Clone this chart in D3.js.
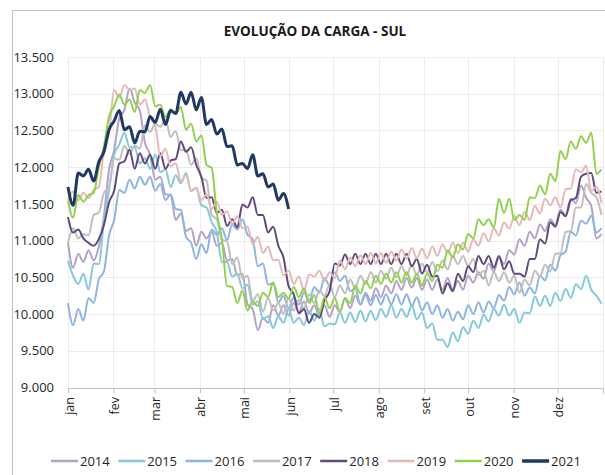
<!DOCTYPE html>
<html>
<head>
<meta charset="utf-8">
<script src="https://cdn.jsdelivr.net/npm/d3@7"></script>
<style>
  body { margin: 0; background: #fff; }
  svg { display: block; font-family: "Open Sans", sans-serif; }
</style>
</head>
<body>
<div id="chart_div"></div>
<script>
// daily load samples every 3.5 days (MW)
var step_days = 3.5;

var months = ["jan", "fev", "mar", "abr", "mai", "jun", "jul", "ago", "set", "out", "nov", "dez"];
var month_start = [0, 31, 59, 90, 120, 151, 181, 212, 243, 273, 304, 334, 365];
var y_ticks = [9000, 9500, 10000, 10500, 11000, 11500, 12000, 12500, 13000, 13500];
var years = ["2014", "2015", "2016", "2017", "2018", "2019", "2020", "2021"];
var colors = ["#b3a2c7", "#86c8dc", "#8eb4e3", "#bfbfbf", "#604a7b", "#e6b9b8", "#92d050", "#1f3864"];

var s2014 = [10970, 10630, 10820, 10710, 10870, 10730, 10920, 11330, 11970, 12230,
  12670, 12780, 13070, 12880, 12770, 12330, 12170, 11830, 11870, 11630,
  11620, 11280, 11370, 11130, 11170, 10930, 11120, 11030, 11120, 10930,
  10970, 10730, 10750, 10530, 10550, 10130, 10070, 9780, 9950, 9880,
  10120, 9980, 10120, 9980, 10150, 10030, 10170, 10010, 10120, 9980,
  10120, 9960, 10120, 10030, 10220, 10080, 10250, 10130, 10290, 10180,
  10350, 10230, 10390, 10280, 10450, 10330, 10490, 10360, 10490, 10330,
  10470, 10330, 10470, 10330, 10490, 10330, 10450, 10330, 10520, 10430,
  10570, 10480, 10690, 10580, 10770, 10680, 10870, 10810, 11020, 10930,
  11120, 11030, 11220, 11130, 11290, 11210, 11420, 11350, 11570, 11510,
  11750, 11580, 11470, 11030, 11090];

var s2015 = [10730, 10520, 10410, 10550, 10330, 10690, 10680, 11270, 11680, 12170,
  12310, 12470, 12270, 12270, 12050, 12120, 11980, 12170, 11930, 11970,
  11730, 11890, 11780, 11920, 11680, 11720, 11480, 11450, 11250, 11120,
  10710, 10710, 10510, 10550, 10350, 10400, 10130, 10170, 9930, 9970,
  9810, 9970, 9880, 10070, 9880, 9950, 9850, 10040, 9910, 10070,
  9830, 9870, 9860, 10020, 9880, 10020, 9890, 10050, 9900, 10040,
  9920, 10070, 9960, 10120, 9950, 10070, 9960, 10120, 9930, 10020,
  9810, 9870, 9650, 9650, 9550, 9750, 9630, 9820, 9730, 9910,
  9810, 9990, 9900, 10070, 9980, 10130, 9980, 10070, 9880, 10020,
  10010, 10240, 10110, 10250, 10110, 10290, 10180, 10340, 10220, 10410,
  10340, 10520, 10330, 10250, 10140];

var s2016 = [10150, 9850, 10070, 9910, 10220, 10150, 10470, 10580, 11070, 11280,
  11690, 11650, 11830, 11710, 11870, 11760, 11870, 11680, 11770, 11550,
  11630, 11430, 11420, 11050, 10970, 10750, 10950, 10830, 11150, 11080,
  11170, 11010, 11220, 11150, 11290, 11080, 11020, 10650, 10690, 10400,
  10420, 10160, 10250, 10080, 10230, 10130, 10290, 10180, 10370, 10290,
  10490, 10390, 10570, 10450, 10520, 10310, 10350, 10130, 10260, 10120,
  10260, 10130, 10270, 10130, 10270, 10130, 10270, 10110, 10230, 10050,
  10160, 10000, 10120, 9950, 10070, 9910, 10030, 9930, 10120, 10000,
  10160, 10020, 10170, 10080, 10260, 10180, 10370, 10270, 10430, 10250,
  10360, 10280, 10520, 10460, 10670, 10590, 10800, 10850, 11120, 11070,
  11270, 11230, 11340, 11110, 11170];

var s2017 = [10970, 11170, 11030, 11090, 11070, 11350, 11380, 11650, 11730, 12120,
  12100, 12290, 12180, 12290, 12250, 12570, 12480, 12590, 12550, 12650,
  12410, 12490, 12230, 12230, 12030, 12120, 11850, 11820, 11350, 11290,
  11010, 10990, 10680, 10770, 10480, 10520, 10180, 10270, 10030, 10220,
  10050, 10150, 10000, 10220, 10050, 10190, 10080, 10270, 10150, 10320,
  10250, 10400, 10230, 10390, 10280, 10470, 10360, 10520, 10410, 10570,
  10430, 10590, 10480, 10630, 10500, 10650, 10530, 10670, 10530, 10690,
  10560, 10710, 10580, 10730, 10610, 10790, 10680, 10790, 10650, 10750,
  10530, 10590, 10390, 10570, 10450, 10570, 10430, 10520, 10290, 10470,
  10390, 10590, 10510, 10670, 10580, 10820, 10830, 11120, 11130, 11450,
  11450, 11770, 11650, 11590, 11350];

var s2018 = [11320, 11110, 11150, 11030, 10970, 10930, 11020, 11210, 11520, 11680,
  12050, 12080, 12240, 11980, 12190, 12050, 12170, 11980, 12190, 11980,
  12090, 12110, 12350, 12210, 12270, 12030, 11870, 11580, 11590, 11380,
  11420, 11200, 11290, 11180, 11490, 11450, 11590, 11350, 11350, 11110,
  11190, 10930, 10770, 10380, 10270, 10010, 10070, 9880, 10000, 9950,
  10190, 10310, 10690, 10660, 10810, 10680, 10820, 10680, 10820, 10680,
  10820, 10680, 10820, 10680, 10820, 10680, 10820, 10650, 10750, 10550,
  10670, 10510, 10520, 10280, 10420, 10310, 10550, 10450, 10650, 10570,
  10790, 10680, 10790, 10630, 10790, 10610, 10720, 10550, 10550, 10510,
  10750, 10750, 11020, 10960, 11250, 11190, 11390, 11330, 11550, 11580,
  11870, 11910, 11920, 11650, 11670];

var s2019 = [11550, 11670, 11550, 11650, 11580, 11690, 11730, 12220, 12480, 13050,
  12950, 13120, 13050, 13070, 12850, 12920, 12680, 12570, 12150, 12250,
  12010, 12050, 11810, 11890, 11670, 11720, 11550, 11630, 11430, 11530,
  11350, 11400, 11230, 11330, 11170, 11190, 10950, 11050, 10830, 10920,
  10730, 10740, 10530, 10590, 10410, 10510, 10310, 10540, 10510, 10590,
  10450, 10570, 10490, 10730, 10610, 10770, 10650, 10800, 10680, 10830,
  10690, 10830, 10700, 10850, 10730, 10880, 10750, 10900, 10760, 10890,
  10760, 10920, 10790, 10950, 10830, 10970, 10830, 10970, 10850, 11020,
  10930, 11100, 10990, 11170, 11070, 11250, 11160, 11330, 11210, 11390,
  11280, 11470, 11370, 11570, 11480, 11590, 11450, 11700, 11710, 11970,
  11930, 12020, 11680, 11730, 11510];

var s2020 = [11550, 11310, 11620, 11530, 11620, 11650, 11990, 12280, 12690, 12830,
  12990, 12850, 12920, 12750, 13050, 13010, 13120, 12830, 12850, 12680,
  12790, 12730, 12820, 12510, 12590, 12350, 12430, 12030, 11990, 11380,
  11020, 10380, 10370, 10150, 10320, 10050, 10170, 10110, 10290, 10230,
  10430, 10230, 10290, 10210, 10370, 10230, 10350, 10150, 10260, 10010,
  10230, 10080, 10220, 10030, 10220, 10150, 10390, 10280, 10450, 10350,
  10520, 10410, 10550, 10430, 10570, 10430, 10570, 10430, 10550, 10390,
  10550, 10450, 10670, 10630, 10870, 10770, 10950, 10880, 11090, 11030,
  11290, 11210, 11290, 11180, 11570, 11380, 11570, 11280, 11350, 11280,
  11590, 11580, 11750, 11630, 11910, 11810, 12220, 12110, 12350, 12250,
  12420, 12330, 12470, 11910, 11970];

var s2021 = [11730, 11480, 11920, 11880, 11970, 11810, 12070, 12210, 12510, 12630,
  12770, 12510, 12550, 12330, 12490, 12480, 12690, 12610, 12790, 12580,
  12770, 12730, 13020, 12860, 13020, 12780, 12950, 12580, 12650, 12450,
  12520, 12280, 12290, 12030, 12050, 11980, 12170, 11880, 11910, 11730,
  11770, 11550, 11640, 11430];

var series = [s2014, s2015, s2016, s2017, s2018, s2019, s2020, s2021];

var w = 605, h = 475;
var left = 68, right = 603, top_y = 57, bottom_y = 387.5;

var fmt = d3.formatLocale({decimal: ",", thousands: ".", grouping: [3], currency: ["", ""]}).format(",.0f");

var the_svg = d3.select("#chart_div")
  .append("svg")
    .attr("width", w)
    .attr("height", h);

// outer chart frame
the_svg.append("rect")
  .attr("x", 12.5).attr("y", 10.5)
  .attr("width", 620).attr("height", 490)
  .attr("fill", "none")
  .attr("stroke", "#bfbfbf");

the_svg.append("text")
  .attr("x", 315).attr("y", 36)
  .attr("text-anchor", "middle")
  .attr("font-size", 13.5)
  .attr("font-weight", "bold")
  .attr("fill", "#1a1a1a")
  .text("EVOLUÇÃO DA CARGA - SUL");

var x = d3.scaleLinear().domain([0, 365]).range([left, right]);
var y = d3.scaleLinear().domain([9000, 13500]).range([bottom_y, top_y]);

// grid
the_svg.append("g")
  .selectAll("line.h")
  .data(y_ticks.slice(1))
  .enter().append("line")
    .attr("x1", left).attr("x2", right)
    .attr("y1", function(d) { return Math.round(y(d)) + 0.5; })
    .attr("y2", function(d) { return Math.round(y(d)) + 0.5; })
    .attr("stroke", "#ececec");

the_svg.append("g")
  .selectAll("line.v")
  .data(month_start)
  .enter().append("line")
    .attr("x1", function(d) { return Math.round(x(d)) + 0.5; })
    .attr("x2", function(d) { return Math.round(x(d)) + 0.5; })
    .attr("y1", top_y).attr("y2", bottom_y)
    .attr("stroke", "#ececec");

// bottom axis with tick marks
var x_axis = d3.axisBottom(x).tickValues(month_start).tickSize(5).tickFormat("");
var gx = the_svg.append("g")
  .attr("transform", "translate(0," + (Math.round(bottom_y) + 0.5) + ")")
  .call(x_axis);
gx.selectAll("path, line").attr("stroke", "#bfbfbf");
gx.select("path").attr("d", "M" + left + ",0H" + right);

the_svg.append("g")
  .selectAll("text")
  .data(months)
  .enter().append("text")
    .attr("transform", function(d, i) { return "translate(" + (x(month_start[i]) + 5.5) + ",397) rotate(-90)"; })
    .attr("text-anchor", "end")
    .attr("font-size", 12.5)
    .attr("fill", "#262626")
    .text(function(d) { return d; });

// y labels
var y_axis = d3.axisLeft(y).tickValues(y_ticks).tickSize(0).tickPadding(14).tickFormat(fmt);
var gy = the_svg.append("g")
  .attr("transform", "translate(" + left + ",0)")
  .call(y_axis);
gy.select(".domain").remove();
gy.selectAll("text")
  .attr("font-family", "Open Sans, sans-serif")
  .attr("font-size", 13)
  .attr("fill", "#262626");

var line = d3.line()
  .x(function(d, i) { return x(i * step_days); })
  .y(function(d) { return y(d); })
  .curve(d3.curveMonotoneX);

the_svg.append("g")
  .selectAll("path")
  .data(series)
  .enter().append("path")
    .attr("d", line)
    .attr("fill", "none")
    .attr("stroke", function(d, i) { return colors[i]; })
    .attr("stroke-width", function(d, i) { return i == 7 ? 3 : 2; })
    .attr("stroke-linejoin", "round");

// legend
var leg = the_svg.append("g")
  .selectAll("g")
  .data(years)
  .enter().append("g")
    .attr("transform", function(d, i) { return "translate(" + (51 + i * 67.3) + ",461)"; });

leg.append("line")
  .attr("x1", 0).attr("x2", 27)
  .attr("stroke", function(d, i) { return colors[i]; })
  .attr("stroke-width", function(d, i) { return i == 7 ? 3.5 : 2.5; });

leg.append("text")
  .attr("x", 29).attr("dy", "0.35em")
  .attr("font-size", 13)
  .attr("fill", "#262626")
  .text(function(d) { return d; });
</script>
</body>
</html>
